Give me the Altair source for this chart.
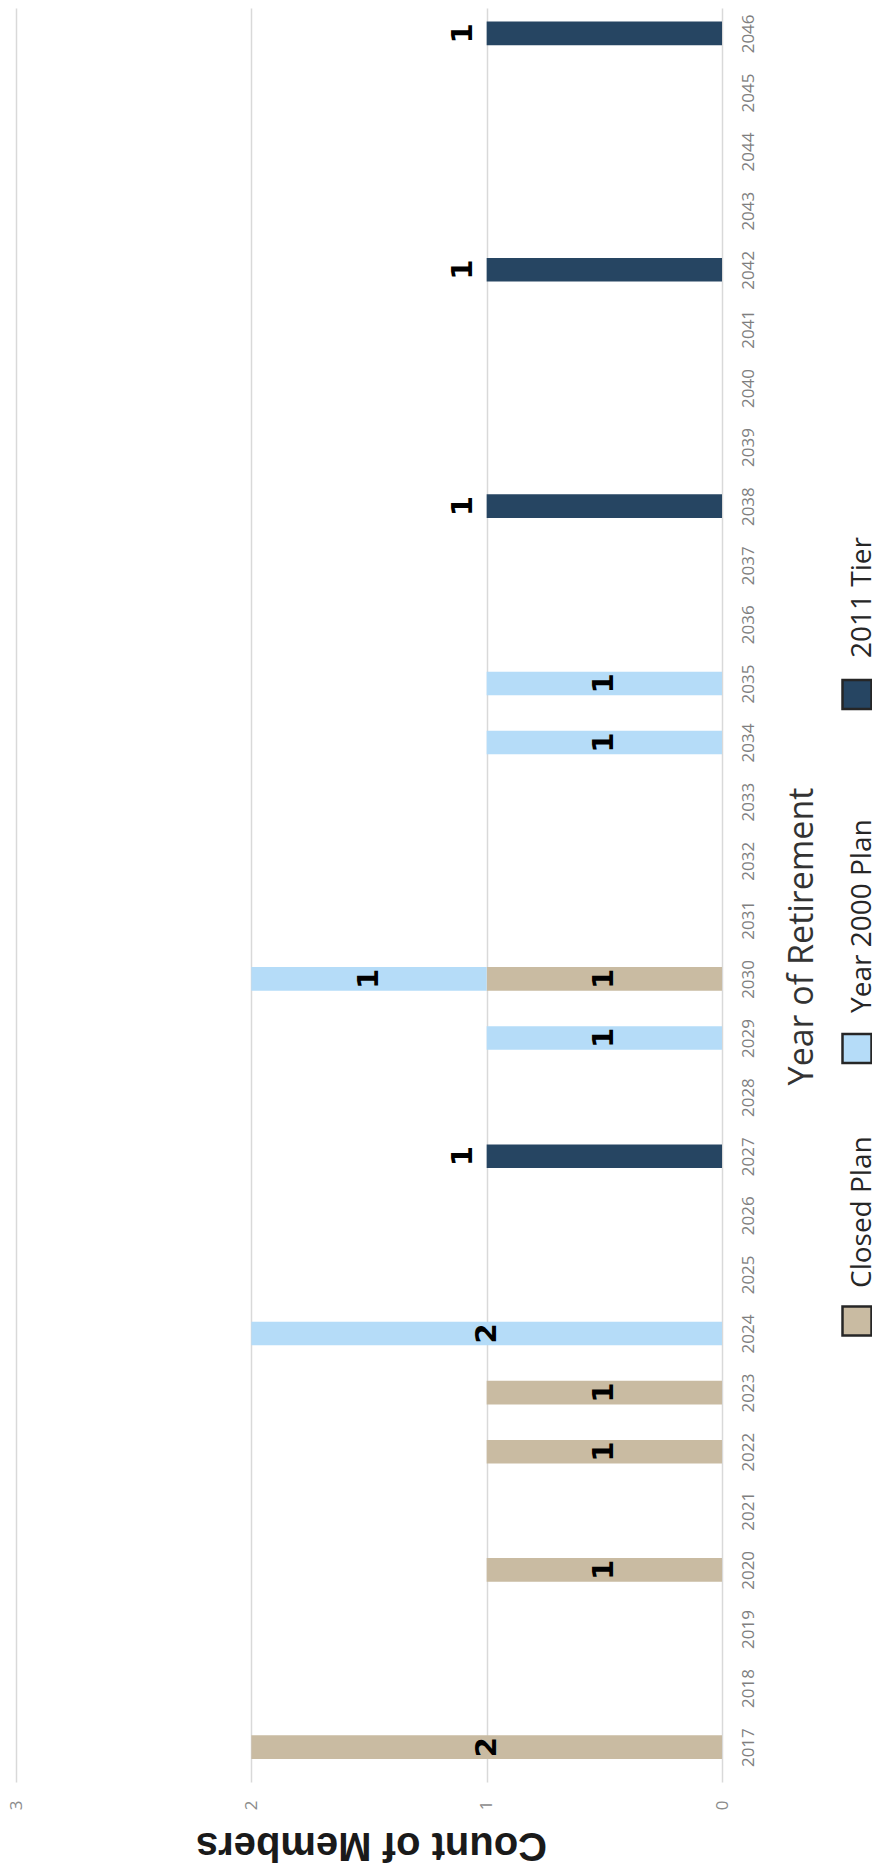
import altair as alt
import pandas as pd

# ---- data ----
years = list(range(2017, 2047))
series = ["Closed Plan", "Year 2000 Plan", "2011 Tier"]
closed_plan = [2, 0, 0, 1, 0, 1, 1, 0, 0, 0, 0, 0, 0, 1, 0,
               0, 0, 0, 0, 0, 0, 0, 0, 0, 0, 0, 0, 0, 0, 0]
year_2000_plan = [0, 0, 0, 0, 0, 0, 0, 2, 0, 0, 0, 0, 1, 1, 0,
                  0, 0, 1, 1, 0, 0, 0, 0, 0, 0, 0, 0, 0, 0, 0]
tier_2011 = [0, 0, 0, 0, 0, 0, 0, 0, 0, 0, 1, 0, 0, 0, 0,
             0, 0, 0, 0, 0, 0, 1, 0, 0, 0, 1, 0, 0, 0, 1]
count_ticks = [0, 1, 2, 3]
colors = ["#C9BBA2", "#B5DCF8", "#264562"]

# ---- build long table with stacking ----
rows = []
for i, yr in enumerate(years):
    base = 0
    for name, vals in zip(series, [closed_plan, year_2000_plan, tier_2011]):
        v = vals[i]
        if v > 0:
            if name == "2011 Tier":
                lp = base + v + 0.1   # label outside end
            else:
                lp = base + v / 2     # label centred
            rows.append(dict(year=yr, plan=name, value=v, start=base,
                             end=base + v, label_pos=lp, label=str(v)))
            base += v
df = pd.DataFrame(rows)

x_scale = alt.Scale(domain=[0, 3.034], reverse=True, nice=False, zero=False)
y_scale = alt.Scale(domain=[2016.495, 2046.345], nice=False, zero=False)
color_scale = alt.Scale(domain=series, range=colors)

x_axis = alt.Axis(values=count_ticks, orient="bottom", grid=True,
                  gridColor="#d9d9d9", gridWidth=1.5, domain=False,
                  ticks=False, tickSize=0, labelAngle=270,
                  labelAlign="center", labelBaseline="middle",
                  labelPadding=23, labelFont="Open Sans", labelFontSize=17,
                  labelColor="#8c8c8c", labelFlush=False, format="d")
y_axis = alt.Axis(values=years, orient="right", grid=False, domain=False,
                  ticks=False, tickSize=0, labelAngle=270,
                  labelAlign="center", labelBaseline="middle",
                  labelPadding=26, labelFont="Open Sans", labelFontSize=17,
                  labelColor="#7f7f7f", format="d", labelOverlap=False,
                  labelFlush=False)

bars = alt.Chart(df).mark_bar(orient="horizontal", size=23.6).encode(
    x=alt.X("start:Q", scale=x_scale, axis=x_axis, title=None),
    x2="end:Q",
    y=alt.Y("year:Q", scale=y_scale, axis=y_axis, title=None),
    color=alt.Color("plan:N", scale=color_scale, legend=None),
)

labels = alt.Chart(df).mark_text(
    angle=270, font="DejaVu Sans", fontWeight="bold", fontSize=29,
    align="center", baseline="middle", color="#000000"
).encode(
    x=alt.X("label_pos:Q", scale=x_scale, axis=x_axis, title=None),
    y=alt.Y("year:Q", scale=y_scale, axis=y_axis, title=None),
    text="label:N",
)

year_title = alt.Chart(pd.DataFrame({"t": ["Year of Retirement"]})).mark_text(
    angle=270, font="Open Sans", fontSize=34, align="center",
    baseline="alphabetic", color="#333333"
).encode(x=alt.value(805), y=alt.value(928.5), text="t:N")

count_title = alt.Chart(pd.DataFrame({"t": ["Count of Members"]})).mark_text(
    angle=180, font="Liberation Sans", fontWeight="bold", fontSize=40,
    align="center", baseline="alphabetic", color="#1a1a1a"
).encode(x=alt.value(363.5), y=alt.value(1825), text="t:N")

# manual legend (rotated like the rest of the chart)
legend_sq_y = [1313, 1040.5, 686.5]
legend_txt_y = [1280, 1005, 650]
legend_layers = []
for name, col, sy, ty in zip(series, colors, legend_sq_y, legend_txt_y):
    ldf = pd.DataFrame({"t": [name]})
    legend_layers.append(
        alt.Chart(ldf).mark_square(size=841, filled=True, color=col,
                                   stroke="#262626", strokeWidth=2.5,
                                   opacity=1)
        .encode(x=alt.value(849), y=alt.value(sy))
    )
    legend_layers.append(
        alt.Chart(ldf).mark_text(angle=270, font="Open Sans", fontSize=28,
                                 align="left", baseline="alphabetic",
                                 color="#262626")
        .encode(x=alt.value(863), y=alt.value(ty), text="t:N")
    )

chart = alt.layer(bars, labels, year_title, count_title, *legend_layers).properties(
    width=714, height=1774,
    autosize=alt.AutoSizeParams(type="none"),
    padding={"left": 0, "top": 0, "right": 150, "bottom": 83},
    background="#ffffff",
).configure_view(stroke=None)

chart.save("out.html", embed_options={"renderer": "svg", "actions": False})
